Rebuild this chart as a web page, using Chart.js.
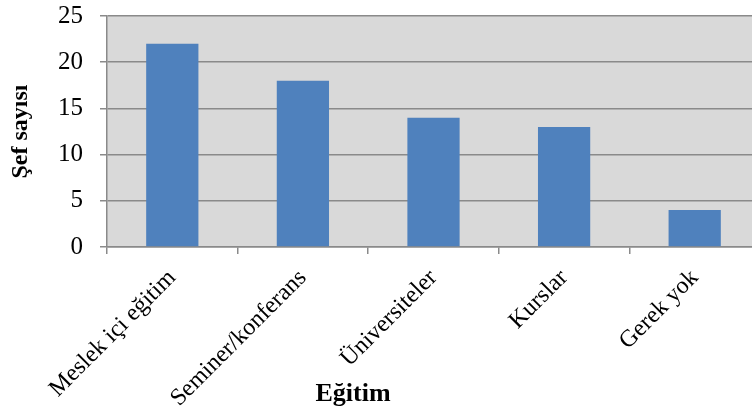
<!DOCTYPE html>
<html>
<head>
<meta charset="utf-8">
<script src="https://cdn.jsdelivr.net/npm/chart.js@4/dist/chart.umd.min.js"></script>
<style>
    body { margin: 0; overflow: hidden; background: #fff; }
    #wrap { width: 752px; height: 415px; overflow: hidden; }
</style>
</head>
<body>
<div id="wrap"><canvas id="chart" width="760" height="415"></canvas></div>
<script>
const categories = ['Meslek içi eğitim', 'Seminer/konferans', 'Üniversiteler', 'Kurslar', 'Gerek yok'];
const chefCounts = [22, 18, 14, 13, 4];
const yTicks = [0, 5, 10, 15, 20, 25];

const serif = "'Liberation Serif', 'Times New Roman', serif";
const gridGray = '#8a8a8a';

// gray plot background plus the x axis title
const plotBackground = {
    id: 'plotBackground',
    beforeDraw(chart) {
        const { ctx, chartArea } = chart;
        ctx.save();
        ctx.fillStyle = '#d9d9d9';
        ctx.fillRect(chartArea.left, chartArea.top, chartArea.right - chartArea.left, chartArea.bottom - chartArea.top);
        ctx.restore();
    },
    afterDraw(chart) {
        const ctx = chart.ctx;
        ctx.save();
        ctx.font = 'bold 26px ' + serif;
        ctx.fillStyle = '#000';
        ctx.textAlign = 'center';
        ctx.textBaseline = 'middle';
        ctx.fillText('Eğitim', 353, 394);
        ctx.restore();
    }
};

new Chart(document.getElementById('chart'), {
    type: 'bar',
    data: {
        labels: categories,
        datasets: [{
            data: chefCounts,
            backgroundColor: '#4f81bd',
            barPercentage: 0.4,
            categoryPercentage: 1
        }]
    },
    options: {
        responsive: false,
        animation: false,
        layout: { padding: { top: 16, right: 0, bottom: 0, left: 0 } },
        plugins: {
            legend: { display: false },
            tooltip: { enabled: false }
        },
        scales: {
            x: {
                grid: {
                    display: true,
                    drawOnChartArea: false,
                    drawTicks: true,
                    tickLength: 7,
                    color: gridGray,
                    lineWidth: 1.5
                },
                border: { color: gridGray, width: 1.5 },
                ticks: {
                    color: '#000',
                    font: { family: serif, size: 24 },
                    minRotation: 45,
                    maxRotation: 45,
                    padding: 10
                },
                afterFit(scale) {
                    scale.height = 168;
                    scale.paddingLeft = 0;
                    scale.paddingRight = 0;
                }
            },
            y: {
                min: 0,
                max: 25,
                afterBuildTicks(scale) { scale.ticks = yTicks.map(v => ({ value: v })); },
                grid: {
                    color: gridGray,
                    lineWidth: 1.5,
                    tickLength: 7
                },
                border: { color: gridGray, width: 1.5 },
                ticks: {
                    color: '#000',
                    font: { family: serif, size: 25 },
                    padding: 17
                },
                title: {
                    display: true,
                    text: 'Şef sayısı',
                    color: '#000',
                    font: { family: serif, size: 24, weight: 'bold' },
                    padding: { top: 6, bottom: 0 }
                },
                afterFit(scale) {
                    scale.width = 107;
                    scale.paddingTop = 0;
                    scale.paddingBottom = 0;
                }
            }
        }
    },
    plugins: [plotBackground]
});
</script>
</body>
</html>
